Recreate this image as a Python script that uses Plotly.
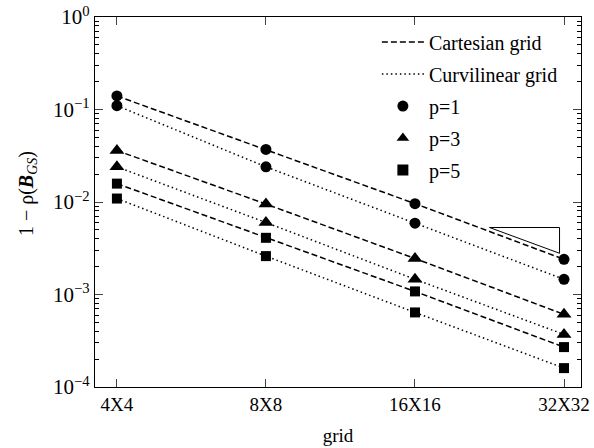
import plotly.graph_objects as go

# ---- data ----
grid_labels = ["4X4", "8X8", "16X16", "32X32"]
grid_pos = [2, 3, 4, 5]  # log2 of grid size

cart_p1 = [0.14, 0.037, 0.0096, 0.0024]
curv_p1 = [0.11, 0.024, 0.0059, 0.00146]
cart_p3 = [0.036, 0.0095, 0.00245, 0.00061]
curv_p3 = [0.024, 0.006, 0.00146, 0.00037]
cart_p5 = [0.0158, 0.0041, 0.00108, 0.00027]
curv_p5 = [0.0109, 0.0026, 0.00064, 0.00016]

slope_x = [4.5, 4.97, 4.97, 4.5]
slope_y = [0.0053, 0.0053, 0.00279, 0.0053]

y_tick_vals = [1, 0.1, 0.01, 0.001, 0.0001]
y_tick_text = ["10<sup>0</sup>", "10<sup>−1</sup>", "10<sup>−2</sup>", "10<sup>−3</sup>", "10<sup>−4</sup>"]
y_minor_vals = [m * d for d in [0.0001, 0.001, 0.01, 0.1] for m in range(2, 10)]

FONT = "Liberation Serif"
DASH = "6px,3px"
DOT = "1.5px,3px"

fig = go.Figure()

series = [
    (cart_p1, DASH, "circle", 11),
    (curv_p1, DOT, "circle", 11),
    (cart_p3, DASH, "triangle-up", 13),
    (curv_p3, DOT, "triangle-up", 13),
    (cart_p5, DASH, "square", 10),
    (curv_p5, DOT, "square", 10),
]
for vals, dash, sym, sz in series:
    fig.add_trace(go.Scatter(
        x=grid_pos, y=vals, mode="lines+markers",
        line=dict(color="black", width=1.5, dash=dash),
        marker=dict(symbol=sym, size=sz, color="black"),
        showlegend=False, hoverinfo="skip"))

# slope triangle
fig.add_trace(go.Scatter(x=slope_x, y=slope_y, mode="lines",
                         line=dict(color="black", width=1),
                         showlegend=False, hoverinfo="skip"))

# legend entries
legend_items = [
    ("Cartesian grid", "lines", DASH, None),
    ("Curvilinear grid", "lines", DOT, None),
    ("p=1", "markers", None, "circle"),
    ("p=3", "markers", None, "triangle-up"),
    ("p=5", "markers", None, "square"),
]
for i, (name, mode, dash, sym) in enumerate(legend_items):
    if mode == "lines":
        fig.add_trace(go.Scatter(x=[None], y=[None], mode="lines", name=name,
                                 legendgroup=f"g{i}",
                                 line=dict(color="black", width=1.5, dash=dash)))
    else:
        fig.add_trace(go.Scatter(x=[None], y=[None], mode="markers", name=name,
                                 legendgroup=f"g{i}",
                                 marker=dict(symbol=sym, size=11, color="black")))

fig.update_layout(
    width=594, height=448,
    margin=dict(l=95, r=13, t=17, b=61, autoexpand=False),
    paper_bgcolor="white", plot_bgcolor="white",
    font=dict(family=FONT, size=19, color="black"),
    legend=dict(x=0.58, xanchor="left", y=0.985, yanchor="top",
                bgcolor="rgba(0,0,0,0)", traceorder="grouped", itemwidth=42,
                tracegroupgap=3, font=dict(size=20, family=FONT, color="black")),
    xaxis=dict(range=[1.853, 5.114], tickmode="array", tickvals=grid_pos,
               ticktext=grid_labels, ticks="inside", ticklen=8, automargin=False,
               tickfont=dict(family=FONT, size=19),
               showline=True, linecolor="black", linewidth=1.3, mirror="ticks",
               showgrid=False, zeroline=False,
               title=dict(text="grid", font=dict(size=19, family=FONT), standoff=14)),
    yaxis=dict(type="log", range=[-4, 0], tickmode="array", tickvals=y_tick_vals,
               ticktext=y_tick_text, ticks="inside", ticklen=8, automargin=False,
               tickfont=dict(family=FONT, size=21),
               showline=True, linecolor="black", linewidth=1.3, mirror="ticks",
               showgrid=False, zeroline=False,
               minor=dict(tickmode="array", tickvals=y_minor_vals, ticks="inside",
                          ticklen=4, tickcolor="black", showgrid=False)),
    annotations=[dict(text="1 − ρ(<b><i>B</i></b><sub><i>GS</i></sub>)",
                      xref="paper", yref="paper", x=-0.14, y=0.524,
                      xanchor="center", yanchor="middle",
                      textangle=-90, showarrow=False,
                      font=dict(size=20, family=FONT))],
)

fig.write_html("out.html", config={"displayModeBar": False},
               post_script="document.body.style.margin='0px';document.body.style.overflow='hidden';")
